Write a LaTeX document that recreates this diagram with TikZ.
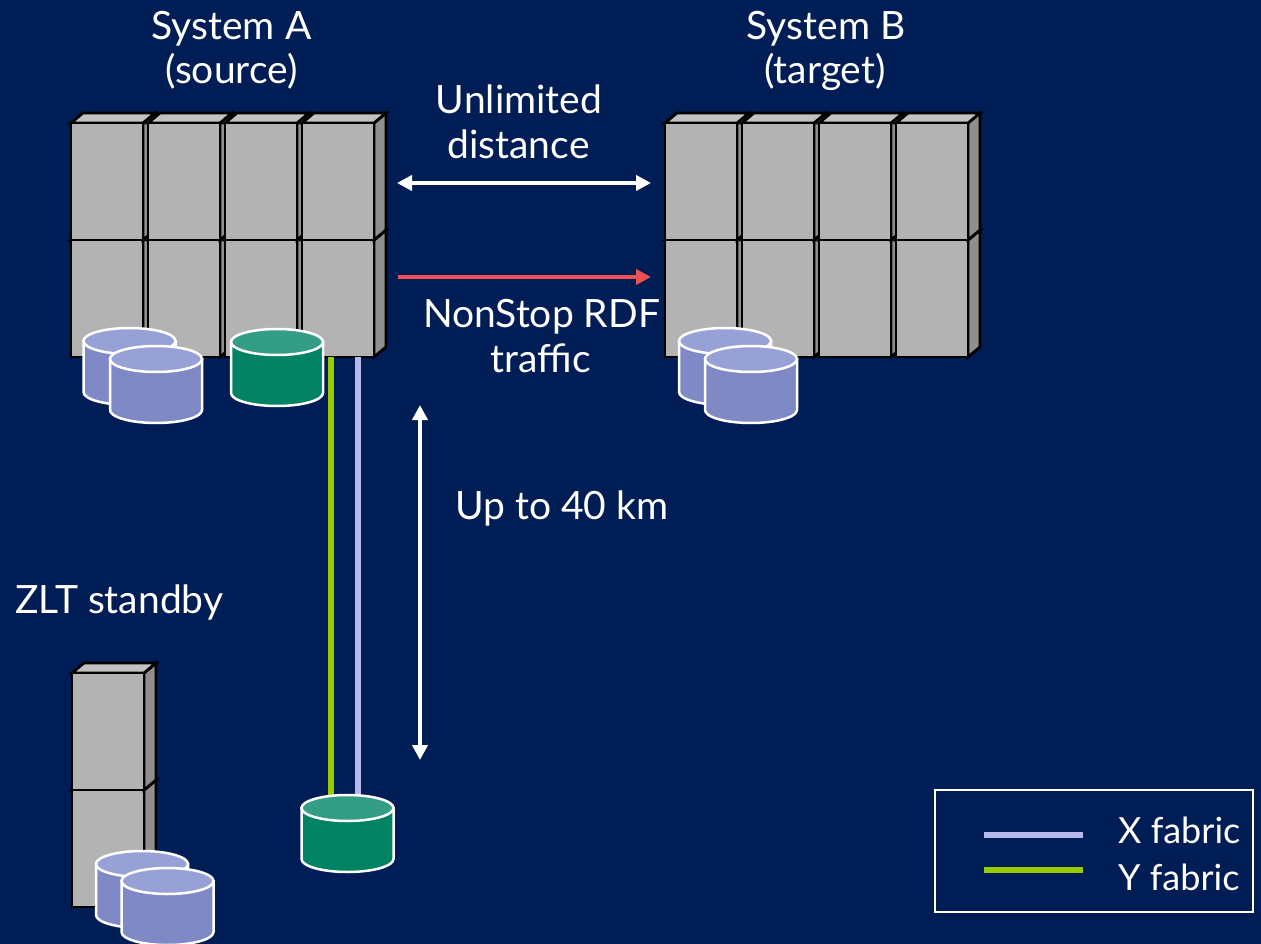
\documentclass[tikz,border=0pt]{standalone}
\usepackage{fontspec}
\setmainfont{Lato}
\usepackage{tikz}
\usetikzlibrary{arrows.meta}
\usepackage{xcolor}

\definecolor{navy}{RGB}{0,29,86}
\definecolor{cabfront}{RGB}{179,179,179}
\definecolor{cabtop}{RGB}{194,194,194}
\definecolor{cabside}{RGB}{143,143,143}
\definecolor{lavside}{RGB}{127,137,198}
\definecolor{lavtop}{RGB}{152,161,214}
\definecolor{greenside}{RGB}{0,130,99}
\definecolor{greentop}{RGB}{51,157,133}
\definecolor{xfabric}{RGB}{183,184,238}
\definecolor{yfabric}{RGB}{153,204,0}
\definecolor{rdfred}{RGB}{240,80,80}

\begin{document}
\begin{tikzpicture}[x=1pt, y=-1pt]

        % 1. Styles for the cabinets, the disks and the labels
        \tikzset{
            cab edge/.style={draw=black, line width=2.8pt, line join=miter},
            disk edge/.style={draw=white, line width=2.5pt},
            lbl/.style={text=white, inner sep=0pt, font=\fontsize{39}{45}\selectfont},
            legend lbl/.style={text=white, inner sep=0pt, font=\fontsize{36}{42}\selectfont},
            span arrow/.style={white, line width=4pt, {Triangle[length=15pt,width=15pt]}-{Triangle[length=15pt,width=15pt]}},
            fabric/.style={line width=5.5pt},
            % one processor cabinet, origin at the top left of its front
            cabinet/.pic={
                \filldraw[cab edge, fill=cabside] (72,0) -- (84,-10) -- (84,107) -- (72,117) -- cycle;
                \filldraw[cab edge, fill=cabtop] (0,0) -- (12,-10) -- (84,-10) -- (72,0) -- cycle;
                \filldraw[cab edge, fill=cabfront] (0,0) rectangle (72,117);
            },
            % one disk, origin at the centre of its lid
            disk/.pic={
                \filldraw[disk edge, fill=#1side] (-46,0) -- (-46,51)
                    arc[start angle=180, end angle=0, x radius=46, y radius=13] -- (46,0) -- cycle;
                \filldraw[disk edge, fill=#1top] (0,0) ellipse[x radius=46, y radius=13];
            },
        }

        % 2. Background
        \fill[navy] (0,0) rectangle (1261,944);
        \useasboundingbox (0,0) rectangle (1261,944);

        % 3. Cabinets: System A, System B and the ZLT standby
        \pgfmathsetmacro{\pitch}{77}  % column pitch
        \pgfmathsetmacro{\rowh}{117}  % cabinet height
        \foreach \r in {1,0} {
            \foreach \c in {0,...,3} {
                \pic at (71+\pitch*\c, 123+\rowh*\r) {cabinet};
                \pic at (665+\pitch*\c, 123+\rowh*\r) {cabinet};
            }
            \pic at (72, 673+\rowh*\r) {cabinet};
        }

        % 4. Disks
        \pic (dskA1) at (129.5,341) {disk=lav};
        \pic (dskA2) at (156,359) {disk=lav};
        \pic (dskA3) at (277,342) {disk=green};
        \pic (dskB1) at (725,341) {disk=lav};
        \pic (dskB2) at (751,359) {disk=lav};
        \pic (dskZ1) at (142,864) {disk=lav};
        \pic (dskZ2) at (167.5,881) {disk=lav};

        % 5. X and Y fabric down to the remote disk
        \coordinate (yTop) at (331,357);
        \coordinate (yEnd) at (331,808);
        \coordinate (xTop) at (358,357);
        \coordinate (xEnd) at (358,808);
        \draw[fabric, yfabric] (yTop) -- (yEnd);
        \draw[fabric, xfabric] (xTop) -- (xEnd);
        \pic (dskRemote) at (347.5,808) {disk=green};

        % 6. Distance and traffic arrows
        \coordinate (unlimL) at (397,183);
        \coordinate (unlimR) at (651,183);
        \coordinate (rdfL) at (398,277);
        \coordinate (rdfR) at (651,277);
        \coordinate (kmTop) at (420,405);
        \coordinate (kmBot) at (420,760);
        \draw[span arrow] (unlimL) -- (unlimR);
        \draw[rdfred, line width=4pt, -{Triangle[length=15pt,width=15pt]}] (rdfL) -- (rdfR);
        \draw[span arrow] (kmTop) -- (kmBot);

        % 7. Labels
        \node[lbl, anchor=base] (sysA) at (231.5,40) {System A};
        \node[lbl, anchor=base] (sysAsrc) at (231.5,84) {(source)};
        \node[lbl, anchor=base] (sysB) at (826,40) {System B};
        \node[lbl, anchor=base] (sysBtgt) at (825,84) {(target)};
        \node[lbl, anchor=base] (unlim) at (519,114) {Unlimited};
        \node[lbl, anchor=base] (dist) at (518.5,159) {distance};
        \node[lbl, anchor=base] (rdf) at (541.5,327) {NonStop RDF};
        \node[lbl, anchor=base] (traffic) at (540.5,372) {traffic};
        \node[lbl, anchor=base west] (upto) at (455,519) {Up to 40 km};
        \node[lbl, anchor=base west] (zlt) at (15,613) {ZLT standby};

        % 8. Legend
        \draw[white, line width=1.5pt] (935,790) rectangle (1253,912);
        \coordinate (xLegL) at (984,835);
        \coordinate (xLegR) at (1083,835);
        \coordinate (yLegL) at (984,870);
        \coordinate (yLegR) at (1083,870);
        \draw[fabric, xfabric] (xLegL) -- (xLegR);
        \draw[fabric, yfabric] (yLegL) -- (yLegR);
        \node[legend lbl, anchor=base west] (xLeg) at (1118,843) {X fabric};
        \node[legend lbl, anchor=base west] (yLeg) at (1118,890) {Y fabric};

\end{tikzpicture}
\end{document}
